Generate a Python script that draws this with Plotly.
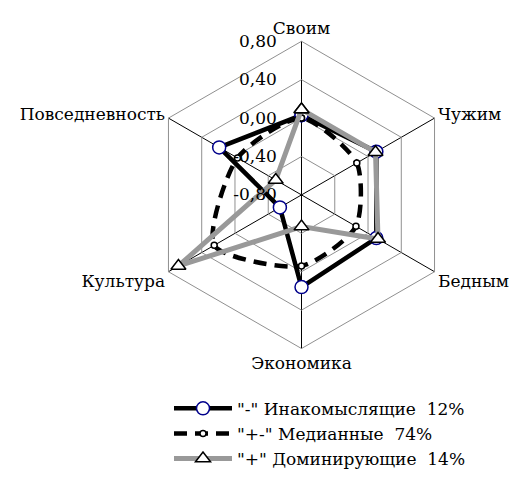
import plotly.graph_objects as go

categories = ["Своим", "Чужим", "Бедным", "Экономика", "Культура", "Повседневность"]
s1_name = '"-" Инакомыслящие  12%'
s1_vals = [0.03, 0.10, 0.10, 0.16, -0.54, 0.19]
s2_name = '"+-" Медианные  74%'
s2_vals = [0.0, -0.135, -0.145, -0.06, 0.25, -0.03]
s3_name = '"+" Доминирующие  14%'
s3_vals = [0.09, 0.09, 0.12, -0.47, 0.68, -0.49]
tick_vals = [-0.8, -0.4, 0.0, 0.4, 0.8]
tick_text = ["-0,80", "-0,40", "0,00", "0,40", "0,80"]

FONT = "DejaVu Serif"
FS = 17
PAD = "\u00a0" * 4

def closed(v):
    return v + v[:1]

cats = closed(categories)

fig = go.Figure()
fig.add_trace(go.Scatterpolar(
    r=closed(s1_vals), theta=cats, name=s1_name, mode="lines+markers", cliponaxis=True,
    line=dict(color="black", width=4.5),
    marker=dict(symbol="circle", size=13, color="white", line=dict(color="#00008B", width=1.5)),
))
fig.add_trace(go.Scatterpolar(
    r=closed(s2_vals), theta=cats, name=s2_name, mode="lines+markers", cliponaxis=True,
    line=dict(color="black", width=4.5, dash="13px,8px", shape="spline", smoothing=0.7),
    marker=dict(symbol="circle", size=6, color="white", line=dict(color="black", width=1.5)),
))
fig.add_trace(go.Scatterpolar(
    r=closed(s3_vals), theta=cats, name=s3_name, mode="lines+markers", cliponaxis=True,
    line=dict(color="#999999", width=5),
    marker=dict(symbol="triangle-up", size=13, color="white", line=dict(color="black", width=1.5)),
))

W, H = 518, 477
fig.update_layout(
    width=W, height=H,
    margin=dict(l=0, r=0, t=0, b=0),
    paper_bgcolor="white", plot_bgcolor="white",
    font=dict(family=FONT, size=FS, color="black"),
    showlegend=True,
    legend=dict(x=169/W, y=1-407/H, xanchor="left", yanchor="top",
                font=dict(family=FONT, size=FS), itemwidth=58,
                tracegroupgap=0, bgcolor="rgba(0,0,0,0)"),
    polar=dict(
        domain=dict(x=[141.5/W, 461.5/W], y=[1-363/H, 1-43/H]),
        bgcolor="white",
        gridshape="linear",
        angularaxis=dict(direction="clockwise", rotation=90,
                         showline=True, linecolor="#909090", linewidth=1,
                         gridcolor="black", gridwidth=1, ticks="",
                         tickfont=dict(family=FONT, size=FS)),
        radialaxis=dict(range=[-0.8, 0.8], tickvals=tick_vals,
                        ticktext=[t + PAD for t in tick_text],
                        angle=90, tickangle=90, side="counterclockwise", showline=False,
                        gridcolor="#909090", gridwidth=1, ticks="",
                        tickfont=dict(family=FONT, size=FS)),
    ),
)

fig.write_html("out.html", config={"displayModeBar": False},
               post_script="document.body.style.margin='0';")
